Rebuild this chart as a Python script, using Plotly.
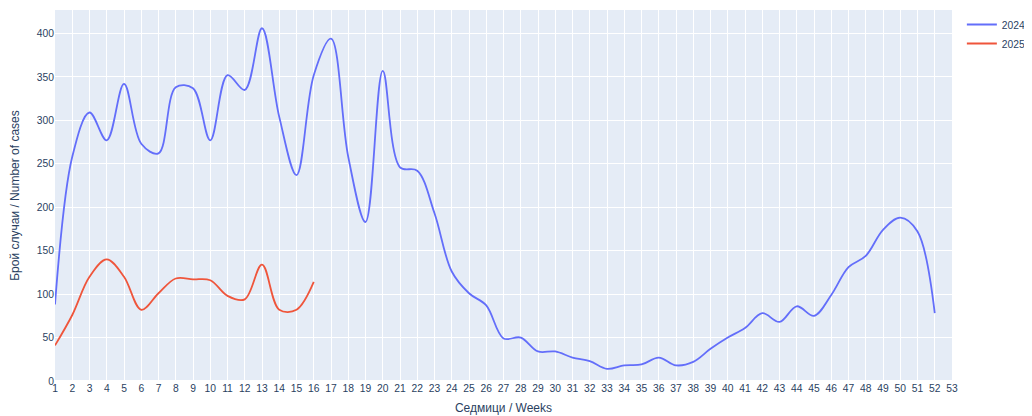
import plotly.graph_objects as go

weeks_2024 = list(range(1, 53))
cases_2024 = [88, 258, 309, 277, 342, 273, 262, 338, 337, 277,
              352, 335, 406, 304, 237, 352, 394, 258, 183, 357,
              246, 242, 193, 126, 101, 87, 49, 50, 34, 34,
              27, 23, 14, 18, 19, 27, 18, 22, 37, 50,
              61, 78, 68, 86, 75, 99, 131, 144, 174, 188,
              172, 78]
weeks_2025 = list(range(1, 17))
cases_2025 = [41, 76, 120, 140, 120, 82, 101, 118, 117, 116,
              98, 94, 134, 82, 82, 114]

fig = go.Figure()
fig.add_trace(go.Scatter(x=weeks_2024, y=cases_2024, mode="lines", name="2024",
                         line=dict(color="#636efa", shape="spline", width=1.8)))
fig.add_trace(go.Scatter(x=weeks_2025, y=cases_2025, mode="lines", name="2025",
                         line=dict(color="#EF553B", shape="spline", width=1.8)))

fig.update_layout(
    template="plotly",
    width=1032, height=416,
    font=dict(family="Arial, Liberation Sans, sans-serif", size=10.3, color="#2a3f5f"),
    margin=dict(l=47, r=88, t=2, b=43, autoexpand=False),
    xaxis=dict(title=dict(text="Седмици / Weeks", font=dict(size=12), standoff=10),
               range=[1, 53], dtick=1, tick0=1, automargin=False),
    yaxis=dict(title=dict(text="Брой случаи / Number of cases", font=dict(size=12)),
               range=[0, 427], automargin=False),
    legend=dict(x=1.011, y=1),
)
fig.write_html("out.html")
